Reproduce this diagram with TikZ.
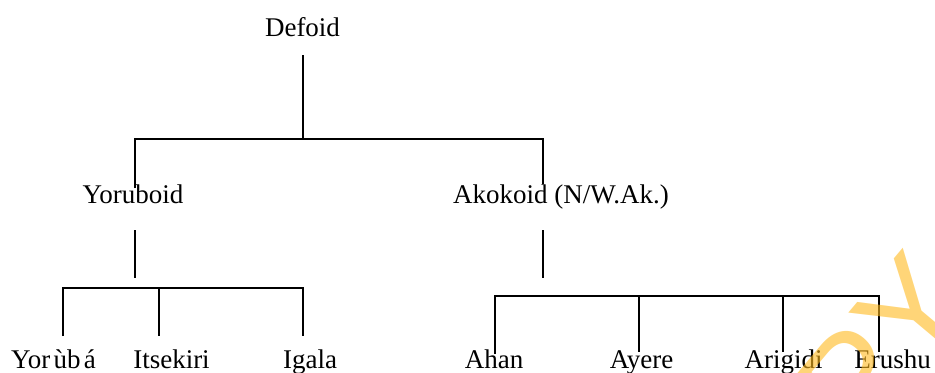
\documentclass[tikz,border=0pt]{standalone}
\usepackage{fontspec}
\setmainfont{Liberation Serif}
\newfontfamily\wmfont{Liberation Sans}
\definecolor{wmorange}{RGB}{255,185,30}
\begin{document}
\begin{tikzpicture}[x=0.5pt,y=-0.5pt,
  lbl/.style={font=\fontsize{13.5}{16}\selectfont, inner sep=0pt, anchor=base},
  ln/.style={line width=1pt, black},
  wm/.style={font=\wmfont\fontsize{68}{80}\selectfont, text=wmorange, text opacity=0.6, inner sep=0pt, anchor=base west, rotate=50}]
\useasboundingbox (0,0) rectangle (935,372);
\clip (0,0) rectangle (935,372);
% labels
\node[lbl] (defoid) at (302.5,36) {Defoid};
\node[lbl] (yoruboid) at (133,203) {Yoruboid};
\node[lbl] (akokoid) at (561,203) {Akokoid (N/W.Ak.)};
\node[lbl] (yoruba) at (53.5,368) {Yor\hspace{0.12em}ùb\hspace{0.12em}á};
\node[lbl] (itsekiri) at (171.5,368) {Itsekiri};
\node[lbl] (igala) at (310,368) {Igala};
\node[lbl] (ahan) at (494,368) {Ahan};
\node[lbl] (ayere) at (641.5,368) {Ayere};
\node[lbl] (arigidi) at (783.5,368) {Arigidi};
\node[lbl] (erushu) at (892.5,368) {Erushu};
% junction coordinates
\coordinate (d1) at (303,55);
\coordinate (d2) at (303,139);
\coordinate (b1l) at (135,139);
\coordinate (b1r) at (543,139);
\coordinate (yd) at (135,188);
\coordinate (ad) at (543,184);
\coordinate (ys1) at (135,230);
\coordinate (ys2) at (135,278);
\coordinate (as1) at (543,230);
\coordinate (as2) at (543,278);
\coordinate (lb1) at (63,288);
\coordinate (lb2) at (159,288);
\coordinate (lb3) at (303,288);
\coordinate (lt1) at (63,336);
\coordinate (lt2) at (159,336);
\coordinate (lt3) at (303,336);
\coordinate (rb1) at (495,296);
\coordinate (rb2) at (639,296);
\coordinate (rb3) at (783,296);
\coordinate (rb4) at (879,296);
\coordinate (rt1) at (495,354);
\coordinate (rt2) at (639,352);
\coordinate (rt3) at (783,352);
\coordinate (rt4) at (879,352);
% tree lines
\draw[ln] (d1) -- (d2);
\draw[ln] (yd) -- (b1l) -- (b1r) -- (ad);
\draw[ln] (ys1) -- (ys2);
\draw[ln] (as1) -- (as2);
\draw[ln] (lt1) -- (lb1) -- (lb3) -- (lt3);
\draw[ln] (lb2) -- (lt2);
\draw[ln] (rt1) -- (rb1) -- (rb4) -- (rt4);
\draw[ln] (rb2) -- (rt2);
\draw[ln] (rb3) -- (rt3);
% watermark
\node[wm] (wmark) at (860,445) {PY};
\end{tikzpicture}
\end{document}
